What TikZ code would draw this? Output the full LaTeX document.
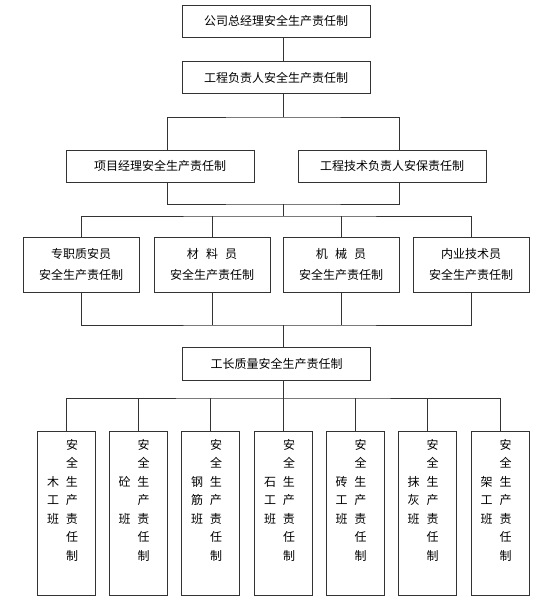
\documentclass[tikz,border=0pt]{standalone}
\usepackage{fontspec}
\usepackage{tikz}
\newfontfamily\cjk{Noto Sans CJK SC}
\definecolor{boxline}{HTML}{333333}

\begin{document}
\begin{tikzpicture}[x=1pt, y=-1pt,
  box/.style={draw=boxline, line width=0.8pt, inner sep=0pt, align=center,
    font=\cjk\fontsize{12}{20.5}\selectfont},
  wide/.style={box, minimum width=188pt, minimum height=32pt},
  mid/.style={box, minimum width=116pt, minimum height=55pt},
  team/.style={box, minimum width=58pt, minimum height=164pt},
  col/.style={inner sep=0pt, font=\cjk\fontsize{12}{18.5}\selectfont},
  link/.style={draw=boxline, line width=0.8pt}]
  \useasboundingbox (0,0) rectangle (554,600);

  \node[wide] (gs) at (276,21) {公司总经理安全生产责任制};
  \node[wide] (gc) at (276,77.5) {工程负责人安全生产责任制};
  \node[wide] (xm) at (160,166) {项目经理安全生产责任制};
  \node[wide] (js) at (392,166) {工程技术负责人安保责任制};

  \node[mid] (zz) at (81,264.5) {专职质安员\\安全生产责任制};
  \node[mid] (cl) at (212,264.5) {材\hspace{0.6em}料\hspace{0.6em}员\\安全生产责任制};
  \node[mid] (jx) at (341,264.5) {机\hspace{0.6em}械\hspace{0.6em}员\\安全生产责任制};
  \node[mid] (ny) at (471,264.5) {内业技术员\\安全生产责任制};

  \node[wide, minimum height=33pt] (gz) at (276.5,363.5) {工长质量安全生产责任制};

  \coordinate (spine) at (283,0);
  \coordinate (s1) at (283,117);
  \coordinate (s2) at (283,204);
  \coordinate (s3) at (283,216);
  \coordinate (s4) at (283,325);
  \coordinate (s5) at (283,398);

  % teams
  \foreach \i/\x/\a/\b/\c in {1/66.5/木/工/班, 2/138/砼/{}/班, 3/210.5/钢/筋/班,
      4/283.5/石/工/班, 5/355/砖/工/班, 6/427/抹/灰/班, 7/500/架/工/班} {
    \node[team] (b\i) at (\x,513) {};
    \node[col] (t\i) at ([xshift=-4pt, yshift=12pt]b\i.center)
      {\begin{tabular}{@{}c@{\hspace{7pt}}c@{}}
        & 安\\ & 全\\ \a & 生\\ \b & 产\\ \c & 责\\ & 任\\ & 制
      \end{tabular}};
  }

  \draw[link] (gs.south -| spine) -- (gc.north -| spine);
  \draw[link] (gc.south -| spine) -- (s1);
  \draw[link] ([xshift=7pt]xm.north) |- (s1) -| ([xshift=7pt]js.north);
  \draw[link] ([xshift=7pt]xm.south) |- (s2) -| ([xshift=7pt]js.south);
  \draw[link] (s2) -- (s3);
  \draw[link] (zz.north) |- (s3) -| (ny.north);
  \draw[link] (cl.north) -- (cl.north |- s3);
  \draw[link] (jx.north) -- (jx.north |- s3);
  \draw[link] (zz.south) |- (s4) -| (ny.south);
  \draw[link] (cl.south) -- (cl.south |- s4);
  \draw[link] (jx.south) -- (jx.south |- s4);
  \draw[link] (s4) -- (gz.north -| s4);
  \draw[link] (gz.south -| s4) -- (s5);
  \draw[link] (b1.north) |- (s5) -| (b7.north);
  \foreach \i in {2,...,6}
    \draw[link] (b\i.north) -- (b\i.north |- s5);
\end{tikzpicture}
\end{document}
